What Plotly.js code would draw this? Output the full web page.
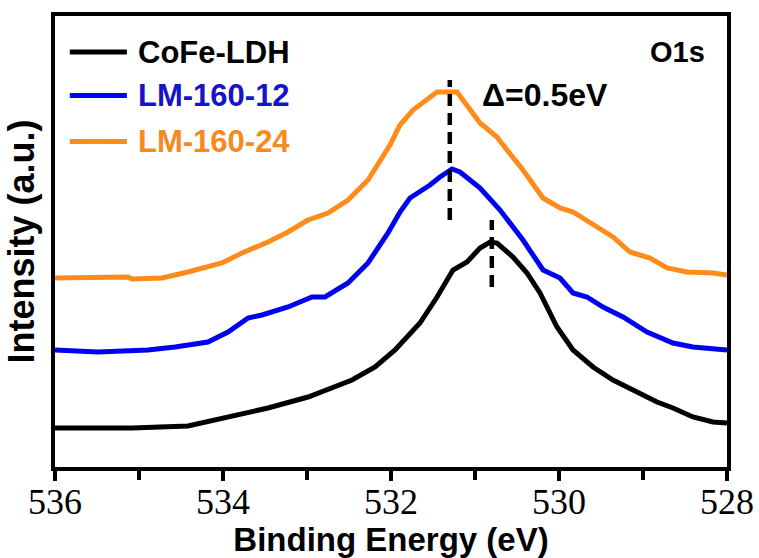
<!DOCTYPE html>
<html>
<head>
<meta charset="utf-8">
<script src="https://cdn.plot.ly/plotly-3.0.1.min.js"></script>
<style>html,body{margin:0;padding:0;background:#fff;}#chart{width:759px;height:558px;}</style>
</head>
<body>
<div id="chart"></div>
<script>
// Series names
const seriesNames = ["CoFe-LDH", "LM-160-12", "LM-160-24"];
const seriesColors = ["#000000", "#0000F2", "#FF8C1A"];
const labelColors = ["#000000", "#1414C8", "#F58A1F"];

// CoFe-LDH
const energyA = [536.000,535.083,534.417,534.012,533.464,532.988,532.702,532.464,532.190,531.952,531.655,531.452,531.262,531.095,530.940,530.821,530.738,530.548,530.381,530.226,530.024,529.833,529.595,529.357,529.119,528.833,528.643,528.405,528.167,528.000];
const intensityA = [39,39,41,49,59,70,79,87,100,117,144,170,197,205,219,225,224,210,194,174,140,117,100,87,77,65,59,50,45,44];

// LM-160-12
const energyB = [536.000,535.488,534.893,534.571,534.179,533.940,533.702,533.536,533.226,532.940,532.786,532.512,532.274,532.036,531.893,531.774,531.536,531.417,531.274,531.179,530.940,530.702,530.429,530.190,529.988,529.833,529.667,529.476,529.238,528.952,528.643,528.405,528.000];
const intensityB = [117,115,117,120,125,135,149,152,160,170,170,184,204,234,255,269,282,290,298,295,279,257,227,197,189,174,170,160,150,135,124,120,117];

// LM-160-24
const energyC = [536.000,535.131,535.083,534.726,534.417,534.012,533.774,533.464,533.226,532.988,532.750,532.512,532.274,532.012,531.893,531.738,531.452,531.214,530.940,530.738,530.619,530.429,530.190,529.988,529.833,529.631,529.357,529.155,528.917,528.714,528.476,528.167,528.000];
const intensityC = [189,190,188,189,195,204,214,225,235,247,254,267,287,322,342,357,375,375,344,330,317,297,269,259,255,245,230,215,209,199,195,194,192];

// Peak markers (eV) and their vertical extents (intensity units)
const peakPositions = [531.3, 530.8];
const peakSpans = [[247, 387], [180, 247]];

const xTickVals = [536, 534, 532, 530, 528];
const xTickText = ["536", "534", "532", "530", "528"];

const energies = [energyA, energyB, energyC];
const intensities = [intensityA, intensityB, intensityC];

const traces = seriesNames.map((n, i) => ({
  x: energies[i], y: intensities[i], name: n, type: "scatter", mode: "lines",
  line: {color: seriesColors[i], width: 5}, showlegend: false
}));

const sans = "Liberation Sans, Arial, sans-serif";
const legendY = [0.920, 0.824, 0.722];
const shapes = [];
const annotations = [];
seriesNames.forEach((n, i) => {
  shapes.push({type: "line", xref: "paper", yref: "paper", x0: 0.022, x1: 0.107, y0: legendY[i], y1: legendY[i],
    line: {color: seriesColors[i], width: 5}});
  annotations.push({xref: "paper", yref: "paper", x: 0.121, y: legendY[i], xanchor: "left", yanchor: "middle",
    text: n, showarrow: false, font: {family: sans, size: 31, weight: "bold", color: labelColors[i]}});
});
peakPositions.forEach((p, i) => {
  shapes.push({type: "line", xref: "x", yref: "y", x0: p, x1: p, y0: peakSpans[i][0], y1: peakSpans[i][1],
    line: {color: "#000", width: 4.5, dash: "12px,7px"}});
});
annotations.push({xref: "paper", yref: "paper", x: 0.970, y: 0.920, xanchor: "right", yanchor: "middle",
  text: "O1s", showarrow: false, font: {family: sans, size: 29, weight: "bold", color: "#000"}});
annotations.push({xref: "paper", yref: "paper", x: 0.633, y: 0.825, xanchor: "left", yanchor: "middle",
  text: "\u0394=0.5eV", showarrow: false, font: {family: sans, size: 32, weight: "bold", color: "#000"}});

const layout = {
  width: 759, height: 558,
  margin: {l: 55, r: 32, t: 16, b: 91},
  paper_bgcolor: "#fff", plot_bgcolor: "#fff",
  xaxis: {
    range: [536, 528], tickvals: xTickVals, ticktext: xTickText,
    ticks: "outside", ticklen: 10, tickwidth: 4, tickcolor: "#000",
    ticklabelstandoff: -10,
    minor: {dtick: 1, ticks: "outside", ticklen: 9, tickwidth: 4, tickcolor: "#000"},
    showline: true, linewidth: 4, linecolor: "#000", mirror: true,
    showgrid: false, zeroline: false,
    tickfont: {family: "Liberation Serif, Times New Roman, serif", size: 36, color: "#000"},
    title: {text: "Binding Energy (eV)", font: {family: sans, size: 33, weight: "bold", color: "#000"}, standoff: 10}
  },
  yaxis: {
    range: [0, 451], showticklabels: false, ticks: "",
    showline: true, linewidth: 4, linecolor: "#000", mirror: true,
    showgrid: false, zeroline: false,
    title: {text: "Intensity (a.u.)\u00A0\u00A0\u00A0\u00A0", font: {family: sans, size: 36, weight: "bold", color: "#000"}, standoff: 6}
  },
  shapes: shapes,
  annotations: annotations
};

Plotly.newPlot("chart", traces, layout, {staticPlot: true, displayModeBar: false});
</script>
</body>
</html>
